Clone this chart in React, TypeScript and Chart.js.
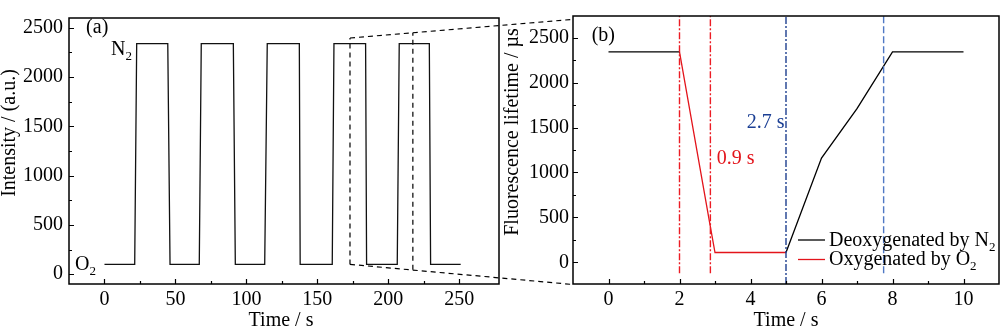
import React, { useEffect, useRef } from "react";
import { Chart, registerables } from "chart.js";

Chart.register(...registerables);

const FONT = '"Liberation Serif", "Times New Roman", Times, serif';
Chart.defaults.font.family = FONT;
Chart.defaults.font.size = 20;
Chart.defaults.color = "#000";

// ---------- Panel (a): intensity square wave ----------
const A_TIME = [0, 21.3, 22.7, 44.6, 46.2, 66.8, 68.2, 90.8, 92.2, 112.9, 114.7, 137.3, 137.9, 160.5, 161.7, 184, 184.7, 206.3, 207.7, 228.9, 229.8, 251];
const A_INTENSITY = [100, 100, 2340, 2340, 100, 100, 2340, 2340, 100, 100, 2340, 2340, 100, 100, 2340, 2340, 100, 100, 2340, 2340, 100, 100];
const A_X_TICKS = [0, 50, 100, 150, 200, 250];
const A_X_MINOR = [25, 75, 125, 175, 225];
const A_Y_TICKS = [0, 500, 1000, 1500, 2000, 2500];
const A_Y_MINOR = [250, 750, 1250, 1750, 2250];

// zoom box + connectors (panel a data coords)
const ZOOM_LEFT_X = [173, 173];
const ZOOM_LEFT_Y = [99, 2397];
const ZOOM_RIGHT_X = [217.3, 217.3];
const ZOOM_RIGHT_Y = [45, 2450];
const ZOOM_TOP_X = [173, 330];
const ZOOM_TOP_Y = [2397, 2586];
const ZOOM_BOT_X = [173, 330];
const ZOOM_BOT_Y = [99, -105];

// ---------- Panel (b): fluorescence lifetime ----------
const B_N2_TIME = [0, 2, 3.5, 5, 6, 7, 8, 10];
const B_N2_VALUE = [2340, 2340, null, 110, 1160, 1710, 2340, 2340];
const B_O2_TIME = [2, 2.85, 3, 5];
const B_O2_VALUE = [2340, 440, 110, 110];
const B_X_TICKS = [0, 2, 4, 6, 8, 10];
const B_X_MINOR = [1, 3, 5, 7, 9];
const B_Y_TICKS = [0, 500, 1000, 1500, 2000, 2500];
const B_Y_MINOR = [250, 750, 1250, 1750, 2250];

// guide lines in panel (b)
const GUIDE_X = [2, 2.87, 5, 7.75];
const GUIDE_BOTTOM = [-120, -120, -240, -120];
const GUIDE_TOP = [2740, 2740, 2740, 2740];
const GUIDE_COLOR = ["#ec1c24", "#ec1c24", "#1f3f8f", "#4f78c4"];
const GUIDE_DASH = [[7, 2, 2, 2], [7, 2, 2, 2], [7, 2, 2, 2], [7, 3]];

const RED = "#e3141b";
const BLUE = "#1b3f94";

type Txt = { x: number; y: number; text: string; sub?: string; color?: string };

function pts(xs: number[], ys: (number | null)[]) {
  return xs.map((x, i) => ({ x, y: ys[i] }));
}

function drawText(ctx: CanvasRenderingContext2D, px: number, py: number, text: string, sub?: string, color = "#000") {
  ctx.fillStyle = color;
  ctx.font = `20px ${FONT}`;
  ctx.textAlign = "left";
  ctx.textBaseline = "alphabetic";
  ctx.fillText(text, px, py);
  if (sub) {
    const w = ctx.measureText(text).width;
    ctx.font = `13px ${FONT}`;
    ctx.fillText(sub, px + w, py + 5);
  }
}

function makeDecor(o: {
  xMajor: number[]; xMinor: number[]; yMajor: number[]; yMinor: number[];
  texts: Txt[];
  xTitle: { text: string; x: number; y: number };
  yTitle: { text: string; x: number; y: number };
  legend?: { x: number; y: number; color: string; text: string; sub: string }[];
}) {
  return {
    id: "decor",
    afterDatasetsDraw(chart: any) {
      const { ctx, chartArea: a, scales } = chart;
      const xs = scales.x, ys = scales.y;
      ctx.save();
      ctx.strokeStyle = "#000";
      ctx.lineWidth = 1.5;
      ctx.strokeRect(a.left, a.top, a.right - a.left, a.bottom - a.top);
      ctx.lineWidth = 1.2;
      ctx.beginPath();
      const tick = (vals: number[], len: number, axis: "x" | "y") => {
        for (const v of vals) {
          if (axis === "x") {
            const p = Math.round(xs.getPixelForValue(v)) + 0.5;
            ctx.moveTo(p, a.bottom);
            ctx.lineTo(p, a.bottom - len);
          } else {
            const p = Math.round(ys.getPixelForValue(v)) + 0.5;
            ctx.moveTo(a.left, p);
            ctx.lineTo(a.left + len, p);
          }
        }
      };
      tick(o.xMajor, 5, "x");
      tick(o.xMinor, 3, "x");
      tick(o.yMajor, 5, "y");
      tick(o.yMinor, 3, "y");
      ctx.stroke();

      for (const t of o.texts) {
        drawText(ctx, xs.getPixelForValue(t.x), ys.getPixelForValue(t.y), t.text, t.sub, t.color);
      }

      // axis titles
      ctx.fillStyle = "#000";
      ctx.font = `20px ${FONT}`;
      ctx.textAlign = "center";
      ctx.textBaseline = "alphabetic";
      ctx.fillText(o.xTitle.text, o.xTitle.x, o.xTitle.y);
      ctx.save();
      ctx.translate(o.yTitle.x, o.yTitle.y);
      ctx.rotate(-Math.PI / 2);
      ctx.textBaseline = "middle";
      ctx.fillText(o.yTitle.text, 0, 0);
      ctx.restore();

      if (o.legend) {
        for (const l of o.legend) {
          ctx.strokeStyle = l.color;
          ctx.lineWidth = 1.3;
          ctx.beginPath();
          ctx.moveTo(l.x, l.y);
          ctx.lineTo(l.x + 27, l.y);
          ctx.stroke();
          drawText(ctx, l.x + 31, l.y + 5.5, l.text, l.sub, "#000");
        }
      }
      ctx.restore();
    },
  };
}

const fmt = (v: any) => String(v);

function axisCfg(min: number, max: number, ticks: number[], pad: number, size: { w?: number; h?: number }) {
  return {
    type: "linear" as const,
    min,
    max,
    grid: { display: false, drawTicks: false },
    border: { display: false },
    ticks: { padding: pad, color: "#000", font: { size: 20, family: FONT }, callback: fmt, autoSkip: false, maxRotation: 0 },
    afterBuildTicks: (s: any) => {
      s.ticks = ticks.map((v) => ({ value: v }));
    },
    afterFit: (s: any) => {
      if (size.w !== undefined) s.width = size.w;
      if (size.h !== undefined) s.height = size.h;
    },
  };
}

const lineDs = (data: any[], color: string, extra: any = {}) => ({
  data,
  borderColor: color,
  backgroundColor: color,
  borderWidth: 1.3,
  pointRadius: 0,
  tension: 0,
  fill: false,
  spanGaps: false,
  ...extra,
});

function configA(): any {
  const dash = { borderDash: [5, 4], clip: false, borderWidth: 1.2 };
  return {
    type: "line",
    data: {
      datasets: [
        lineDs(pts(A_TIME, A_INTENSITY), "#111"),
        lineDs(pts(ZOOM_LEFT_X, ZOOM_LEFT_Y), "#000", dash),
        lineDs(pts(ZOOM_RIGHT_X, ZOOM_RIGHT_Y), "#000", dash),
        lineDs(pts(ZOOM_TOP_X, ZOOM_TOP_Y), "#000", dash),
        lineDs(pts(ZOOM_BOT_X, ZOOM_BOT_Y), "#000", dash),
      ],
    },
    options: {
      responsive: false,
      animation: false,
      devicePixelRatio: 1,
      layout: { padding: { left: 0, top: 1, right: 76, bottom: 0 } },
      plugins: { legend: { display: false }, tooltip: { enabled: false } },
      scales: {
        x: axisCfg(-25, 278, A_X_TICKS, 4, { h: 45 }),
        y: axisCfg(-100, 2600, A_Y_TICKS, 6, { w: 69 }),
      },
    },
    plugins: [
      makeDecor({
        xMajor: A_X_TICKS, xMinor: A_X_MINOR, yMajor: A_Y_TICKS, yMinor: A_Y_MINOR,
        texts: [
          { x: -12.95, y: 2447, text: "(a)" },
          { x: 4.6, y: 2228, text: "N", sub: "2" },
          { x: -20.7, y: 43, text: "O", sub: "2" },
        ],
        xTitle: { text: "Time / s", x: 281, y: 326 },
        yTitle: { text: "Intensity / (a.u.)", x: 10, y: 133 },
      }),
    ],
  };
}

function configB(): any {
  const guides = GUIDE_X.map((gx, i) =>
    lineDs(pts([gx, gx], [GUIDE_BOTTOM[i], GUIDE_TOP[i]]), GUIDE_COLOR[i], { borderDash: GUIDE_DASH[i], borderWidth: 1.4 })
  );
  return {
    type: "line",
    data: {
      datasets: [
        ...guides,
        lineDs(pts(B_N2_TIME, B_N2_VALUE), "#000"),
        lineDs(pts(B_O2_TIME, B_O2_VALUE), RED),
      ],
    },
    options: {
      responsive: false,
      animation: false,
      devicePixelRatio: 1,
      layout: { padding: { left: 0, top: 2, right: 1, bottom: 0 } },
      plugins: { legend: { display: false }, tooltip: { enabled: false } },
      scales: {
        x: axisCfg(-1, 11, B_X_TICKS, 4, { h: 45 }),
        y: axisCfg(-240, 2740, B_Y_TICKS, 4, { w: 83 }),
      },
    },
    plugins: [
      makeDecor({
        xMajor: B_X_TICKS, xMinor: B_X_MINOR, yMajor: B_Y_TICKS, yMinor: B_Y_MINOR,
        texts: [
          { x: -0.473, y: 2465, text: "(b)" },
          { x: 3.048, y: 1091, text: "0.9 s", color: RED },
          { x: 3.893, y: 1493, text: "2.7 s", color: BLUE },
        ],
        xTitle: { text: "Time / s", x: 296, y: 326 },
        yTitle: { text: "Fluorescence lifetime / \u00b5s", x: 23, y: 132 },
        legend: [
          { x: 308, y: 240, color: "#000", text: "Deoxygenated by N", sub: "2" },
          { x: 308, y: 259.5, color: RED, text: "Oxygenated by O", sub: "2" },
        ],
      }),
    ],
  };
}

function ChartCanvas({ make, left, width }: { make: () => any; left: number; width: number }) {
  const ref = useRef<HTMLCanvasElement | null>(null);
  useEffect(() => {
    if (!ref.current) return;
    const chart = new Chart(ref.current, make());
    return () => chart.destroy();
  }, []);
  return (
    <canvas
      ref={ref}
      width={width}
      height={329}
      style={{ position: "absolute", left, top: 0, width, height: 329 }}
    />
  );
}

export default function App() {
  return (
    <div style={{ position: "absolute", left: 0, top: 0, width: 1000, height: 329, background: "#fff", overflow: "hidden" }}>
      <ChartCanvas make={configA} left={0} width={575} />
      <ChartCanvas make={configB} left={490} width={510} />
    </div>
  );
}
